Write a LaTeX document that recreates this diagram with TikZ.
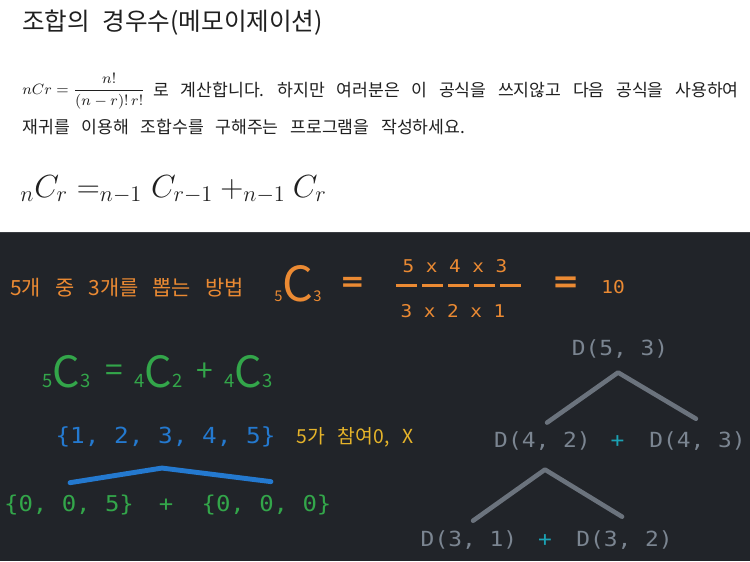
\documentclass[tikz,border=0pt]{standalone}
\usepackage{fix-cm}
\usepackage{xcolor}
\usepackage{amsmath}
\usepackage{fontspec}
\usepackage{tikz}

\newfontfamily\kr[WordSpace=3]{Noto Sans CJK KR}
\newfontfamily\mono[FakeStretch=1.1]{DejaVu Sans Mono}
\newfontfamily\djv{DejaVu Sans}
\newcommand{\fsize}[1]{\fontsize{#1}{#1}\selectfont}

\definecolor{ink}{HTML}{202020}
\definecolor{editorbg}{HTML}{212429}
\definecolor{editoredge}{HTML}{3A3D42}
\definecolor{penorange}{HTML}{EB8A33}
\definecolor{pengreen}{HTML}{33A64A}
\definecolor{penblue}{HTML}{2479CF}
\definecolor{penyellow}{HTML}{E6B42A}
\definecolor{pengray}{HTML}{7B8591}
\definecolor{treegray}{HTML}{6B737D}
\definecolor{pencyan}{HTML}{1BA2B4}

\begin{document}
\begin{tikzpicture}[x=0.02cm,y=-0.02cm,
    every node/.style={inner sep=0pt},
    kortext/.style={anchor=base west,font={\kr\fsize{#1}}},
    codetext/.style={anchor=base,font={\mono\fsize{#1}}},
    treeline/.style={treegray,line width=2.6pt,line cap=round,line join=round},
    setline/.style={penblue,line width=2.8pt,line cap=round,line join=round}]
    \useasboundingbox (0,0) rectangle (750,561);
    % Problem sheet on top, editor below
    \fill[white] (0,0) rectangle (750,232);
    \fill[editorbg] (0,232) rectangle (750,561);
    \draw[editoredge,line width=0.8pt] (0,232.7) -- (750,232.7);

    % Problem text
    \node[kortext=14,text=ink] (title) at (22,31) {조합의\kern0.5em 경우수(메모이제이션)};
    \node[anchor=base west,font=\fsize{8.5},text=ink] (ncr) at (22,94) {$nCr = \dfrac{n!}{(n-r)!\,r!}$};
    \node[kortext=9.8,text=ink] (line1) at (153,96) {로 계산합니다. 하지만 여러분은 이 공식을 쓰지않고 다음 공식을 사용하여};
    \node[kortext=9.8,text=ink] (line2) at (22,133) {재귀를 이용해 조합수를 구해주는 프로그램을 작성하세요.};
    \node[anchor=base west,font=\fsize{18.2},text=ink] (recur) at (20,197) {$_nC_r = _{n-1}C_{r-1} + _{n-1}C_r$};

    % 5C3 by the factorial formula
    \node[kortext=11.9,text=penorange] (howto) at (10,295) {5개 중 3개를 뽑는 방법};
    \node[anchor=base west,font=\kr,text=penorange] (c53) at (274,301.5) {{\fsize{8.4}5}{\fsize{27.5}C}{\fsize{8.4}3}};
    \node[font=\djv\bfseries\fsize{16.7},text=penorange] (eqA) at (352.5,284.5) {=};
    \node[codetext=10,text=penorange] (numer) at (455,272) {5 x 4 x 3};
    \draw[penorange,line width=1.7pt,dash pattern=on 11.95pt off 2.85pt] (396,285.5) -- (522,285.5);
    \node[codetext=10,text=penorange] (denom) at (453,317) {3 x 2 x 1};
    \node[font=\djv\bfseries\fsize{18.4},text=penorange] (eqB) at (566,284.5) {=};
    \node[codetext=10.1,text=penorange] (result) at (613,293) {10};

    % Recurrence in green
    \node[anchor=base west,font=\kr,text=pengreen] (g53) at (42,387) {{\fsize{10.5}5}{\fsize{24.5}C}{\fsize{10.5}3}};
    \node[font=\kr\fsize{18},text=pengreen] (geq) at (114,373.5) {=};
    \node[anchor=base west,font=\kr,text=pengreen] (g42) at (134,387) {{\fsize{10.5}4}{\fsize{24.5}C}{\fsize{10.5}2}};
    \node[font=\kr\fsize{17},text=pengreen] (gplus) at (204.5,372.5) {+};
    \node[anchor=base west,font=\kr,text=pengreen] (g43) at (224,387) {{\fsize{10.5}4}{\fsize{24.5}C}{\fsize{10.5}3}};

    % Split of the set on element 5
    \node[codetext=12.6,text=penblue] (fullset) at (165.5,443) {\{1, 2, 3, 4, 5\}};
    \node[kortext=11,text=penyellow] (note) at (296,443) {5가 참여0, X};
    \node[codetext=12.4,text=pengreen] (pick5) at (69,511) {\{0, 0, 5\}};
    \node[codetext=12.4,text=pengreen] (plusset) at (166,511) {+};
    \node[codetext=12.4,text=pengreen] (skip5) at (266.5,511) {\{0, 0, 0\}};
    \draw[setline] ([xshift=0.6pt,yshift=6.5pt]pick5.north) -- ([xshift=-2pt,yshift=-12pt]fullset.south) -- ([xshift=2.5pt,yshift=7.1pt]skip5.north);

    % Call tree
    \node[codetext=11.85,text=pengray] (d53) at (620,355) {D(5, 3)};
    \node[codetext=11.85,text=pengray] (d42) at (542.5,447) {D(4, 2)};
    \node[codetext=11.85,text=pencyan] (plusA) at (617.5,447) {+};
    \node[codetext=11.85,text=pengray] (d43) at (697.5,447) {D(4, 3)};
    \node[codetext=11.85,text=pengray] (d31) at (469,546) {D(3, 1)};
    \node[codetext=11.85,text=pencyan] (plusB) at (545,546) {+};
    \node[codetext=11.85,text=pengray] (d32) at (624.5,546) {D(3, 2)};
    \draw[treeline] ([xshift=2.6pt,yshift=4.7pt]d42.north) -- ([xshift=-1.1pt,yshift=-8.1pt]d53.south) -- ([xshift=-0.9pt,yshift=6.9pt]d43.north);
    \draw[treeline] ([xshift=2.3pt,yshift=5.2pt]d31.north) -- ([xshift=1.4pt,yshift=-11pt]d42.south) -- ([xshift=-1.4pt,yshift=7.5pt]d32.north);
\end{tikzpicture}
\end{document}
